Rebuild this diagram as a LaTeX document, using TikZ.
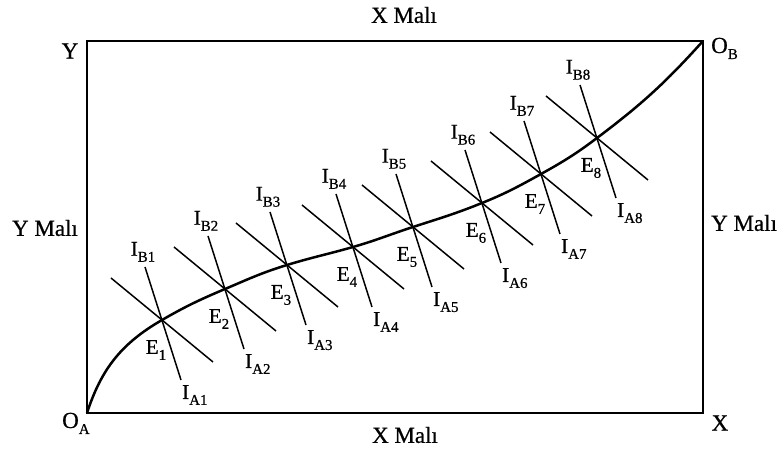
\documentclass[tikz,border=0pt]{standalone}
\usepackage{fontspec}
\setmainfont{Liberation Serif}[FakeBold=0.6]
\usetikzlibrary{positioning}
\newcommand{\Sb}[2]{#1\raisebox{-6pt}{\fontsize{15}{15}\selectfont #2}}
\tikzset{
  frame/.style={line width=2.3pt, line join=miter},
  contract/.style={line width=2.5pt},
  indiff/.style={line width=1.5pt},
  good/.style={font=\fontsize{23}{25}\selectfont, inner sep=1pt},
  elbl/.style={font=\fontsize{21}{23}\selectfont, inner sep=1pt},
}

\begin{document}
\begin{tikzpicture}[x=1pt, y=1pt]
    \useasboundingbox (0,0) rectangle (779,454);
    \coordinate (OA) at (87,41);
    \coordinate (OB) at (703,413);
    \draw[frame] (OA) rectangle (OB);
    % corner and axis labels
    \node[good, anchor=base west] (oa) at (61,26)  {\Sb{O}{A}};
    \node[good, anchor=base west] (ob) at (710,401) {\Sb{O}{B}};
    \node[good] (y)  at (70,403)  {Y};
    \node[good] (x)  at (720,31)  {X};
    \node[good] (xt) at (404,439) {X Malı};
    \node[good] (xb) at (405,19)  {X Malı};
    \node[good] (yl) at (45,226)  {Y Malı};
    \node[good, anchor=west] (yr) at (710,231) {Y Malı};
    % tangency points with both indifference curves
    \foreach \i/\ex/\ey in {1/162/134, 2/225/165, 3/287/189, 4/353/207,
                            5/413/227, 6/482/251, 7/541/280, 8/597/316} {
      \coordinate (E\i) at (\ex,\ey);
      \draw[indiff] ([shift={(-51,42)}]E\i) -- ([shift={(51,-42)}]E\i);
      \coordinate (tB\i) at ([shift={(-17,53)}]E\i);
      \coordinate (tA\i) at ([shift={(19,-60)}]E\i);
      \draw[indiff] (tB\i) -- (tA\i);
      \node[elbl, anchor=south] (IB\i) at ([shift={(-2,4)}]tB\i) {\Sb{I}{B\i}};
      \node[elbl, anchor=north west] (IA\i) at ([shift={(0,-4)}]tA\i) {\Sb{I}{A\i}};
      \node[elbl] (lE\i) at ([shift={(-6,-30)}]E\i) {\Sb{E}{\i}};
    }
    \draw[contract] (OA) to[out=72, in=210] (E1) to[out=30, in=203] (E2)
      to[out=23, in=197] (E3) to[out=17, in=196] (E4) to[out=16, in=198] (E5)
      to[out=18, in=202] (E6) to[out=22, in=209] (E7) to[out=29, in=217] (E8)
      to[out=37, in=228] (OB);
  \end{tikzpicture}
\end{document}
